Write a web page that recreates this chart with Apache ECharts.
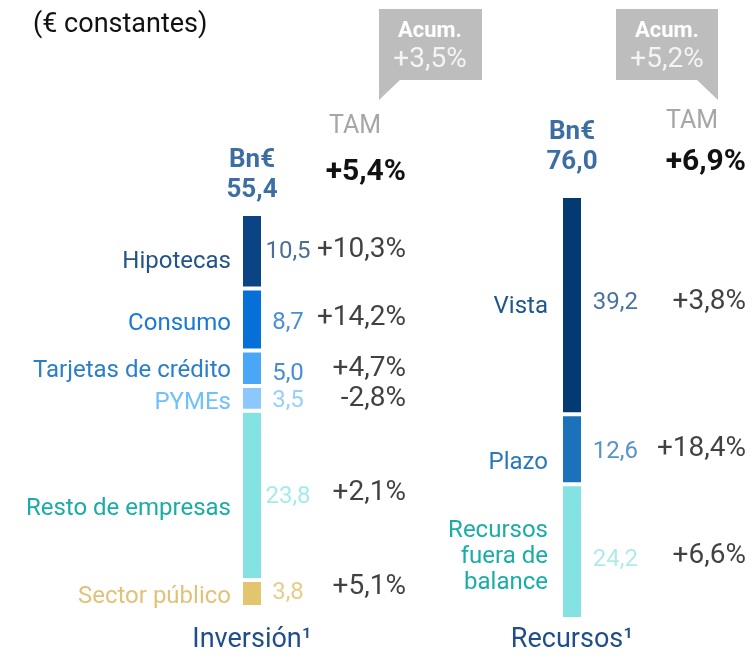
<html>
<head>
<meta charset="utf-8">
<title>Inversión y Recursos</title>
<script src="https://cdn.jsdelivr.net/npm/echarts@6/dist/echarts.min.js"></script>
</head>
<body style="margin:0">
<div id="main" style="width:752px;height:656px;"></div>
<script>
    // datos (de arriba a abajo de cada barra)
    var invNames = ['Hipotecas', 'Consumo', 'Tarjetas de crédito', 'PYMEs', 'Resto de empresas', 'Sector público'];
    var invValues = [10.5, 8.7, 5.0, 3.5, 23.8, 3.8];
    var invTam = ['+10,3%', '+14,2%', '+4,7%', '-2,8%', '+2,1%', '+5,1%'];
    var invTotal = '55,4';
    var invTamTotal = '+5,4%';
    var invAcum = '+3,5%';

    var recNames = ['Vista', 'Plazo', 'Recursos\nfuera de\nbalance'];
    var recValues = [39.2, 12.6, 24.2];
    var recTam = ['+3,8%', '+18,4%', '+6,6%'];
    var recTotal = '76,0';
    var recTamTotal = '+6,9%';
    var recAcum = '+5,2%';

    var FONT = 'Roboto, "Noto Sans", sans-serif';

    // estilos por bloque
    var invStyle = {
        bar: ['#0b4485', '#0770d8', '#4aa6f7', '#8cc8fc', '#84e3e2', '#e3c46f'],
        name: ['#245487', '#1a78d6', '#2a7fc8', '#70c0fa', '#1aada8', '#e0c27a'],
        value: ['#1a4a80', '#1a72d2', '#1a70c8', '#7cc4fa', '#8de6e6', '#e0c06c'],
        nameDy: [11, 4, 3, 5, 14, 4],
        valueDy: [1, 3, 6, 3, 2, 0],
        tamDy: [-1, -2, 1, 1, -2, -6],
        nameDist: 10, valueDx: 36, valueAlign: 'center', tamDx: 154,
        totalDist: 9
    };
    var recStyle = {
        bar: ['#043a72', '#1b72ba', '#84e3e2'],
        name: ['#20578f', '#2a78bb', '#1aada8'],
        value: ['#1a4f8a', '#2a78bb', '#9ae6e6'],
        nameDy: [2, 14, 5],
        valueDy: [-2, 3, 8],
        tamDy: [-3, 0, 4],
        nameDist: 13, valueDx: 66, valueAlign: 'right', tamDx: 174,
        totalDist: 19
    };

    function fmt(v) {
        return v.toFixed(1).replace('.', ',');
    }

    function sum(arr) {
        return arr.reduce(function (a, b) { return a + b; }, 0);
    }

    function buildSeries(idx, names, values, tam, total, st) {
        var series = [];
        var n = values.length;
        // barras apiladas: la ultima del array va abajo
        for (var i = n - 1; i >= 0; i--) {
            series.push({
                type: 'bar',
                name: names[i],
                stack: 'b' + idx,
                xAxisIndex: idx,
                yAxisIndex: idx,
                barWidth: 22,
                silent: true,
                data: [values[i]],
                itemStyle: { color: st.bar[i], borderColor: '#fff', borderWidth: 2 },
                label: {
                    show: true,
                    position: 'left',
                    distance: st.nameDist,
                    formatter: names[i],
                    color: st.name[i],
                    fontFamily: FONT,
                    fontSize: 24,
                    lineHeight: 26,
                    align: 'right',
                    offset: [0, st.nameDy[i]]
                }
            });
        }
        // puntos medios para cifras y TAM
        var valData = [], tamData = [];
        var below = 0;
        for (var j = n - 1; j >= 0; j--) {
            var mid = below + values[j] / 2;
            below += values[j];
            valData.push({
                value: [0, mid],
                label: {
                    formatter: fmt(values[j]),
                    color: st.value[j],
                    offset: [st.valueDx, st.valueDy[j]]
                }
            });
            tamData.push({
                value: [0, mid],
                label: {
                    formatter: tam[j],
                    offset: [st.tamDx, st.tamDy[j]]
                }
            });
        }
        series.push({
            type: 'scatter', xAxisIndex: idx, yAxisIndex: idx, symbolSize: 0, silent: true,
            data: valData,
            label: { show: true, position: 'inside', align: st.valueAlign, fontFamily: FONT, fontSize: 24 }
        });
        series.push({
            type: 'scatter', xAxisIndex: idx, yAxisIndex: idx, symbolSize: 0, silent: true,
            data: tamData,
            label: { show: true, position: 'inside', align: 'right', color: '#111', fontFamily: FONT, fontSize: 28 }
        });
        // total encima de la barra
        series.push({
            type: 'scatter', xAxisIndex: idx, yAxisIndex: idx, symbolSize: 0, silent: true,
            data: [[0, sum(values)]],
            label: {
                show: true, position: 'top', distance: st.totalDist,
                formatter: 'Bn€\n' + total,
                color: '#0b4a8c', fontFamily: FONT, fontSize: 26, fontWeight: 'bold',
                lineHeight: 30, align: 'center'
            }
        });
        return series;
    }

    function callout(points, cx, acum) {
        return [
            { type: 'polygon', shape: { points: points }, style: { fill: '#bdbdbd' }, silent: true },
            { type: 'text', x: cx, y: 31, style: { text: 'Acum.', align: 'center', verticalAlign: 'middle',
                fill: '#fff', font: 'bold 22px ' + FONT } },
            { type: 'text', x: cx, y: 60, style: { text: acum, align: 'center', verticalAlign: 'middle',
                fill: '#f4f4f4', font: '28px ' + FONT } }
        ];
    }

    var myChart = echarts.init(document.getElementById('main'));
    myChart.setOption({
        animation: false,
        grid: [
            { left: 242, top: 214, width: 20, height: 393 },
            { left: 562, top: 196, width: 20, height: 423 }
        ],
        xAxis: [
            { gridIndex: 0, type: 'category', data: ['Inversión¹'], axisLine: { show: false }, axisTick: { show: false },
              axisLabel: { interval: 0, margin: 20, color: '#1f4e8a', fontFamily: FONT, fontSize: 27 } },
            { gridIndex: 1, type: 'category', data: ['Recursos¹'], axisLine: { show: false }, axisTick: { show: false },
              axisLabel: { interval: 0, margin: 8, color: '#1f4e8a', fontFamily: FONT, fontSize: 27 } }
        ],
        yAxis: [
            { gridIndex: 0, type: 'value', min: 0, max: sum(invValues), show: false },
            { gridIndex: 1, type: 'value', min: 0, max: sum(recValues), show: false }
        ],
        series: buildSeries(0, invNames, invValues, invTam, invTotal, invStyle)
            .concat(buildSeries(1, recNames, recValues, recTam, recTotal, recStyle)),
        graphic: [
            { type: 'text', x: 33, y: 25, style: { text: '(€ constantes)', verticalAlign: 'middle',
                fill: '#111', font: '27px ' + FONT } },
            { type: 'text', x: 355, y: 127, style: { text: 'TAM', align: 'center', verticalAlign: 'middle',
                fill: '#a6a6a6', font: '25px ' + FONT } },
            { type: 'text', x: 692, y: 122, style: { text: 'TAM', align: 'center', verticalAlign: 'middle',
                fill: '#a6a6a6', font: '25px ' + FONT } },
            { type: 'text', x: 406, y: 172, style: { text: invTamTotal, align: 'right', verticalAlign: 'middle',
                fill: '#111', font: 'bold 30px ' + FONT } },
            { type: 'text', x: 746, y: 162, style: { text: recTamTotal, align: 'right', verticalAlign: 'middle',
                fill: '#111', font: 'bold 30px ' + FONT } }
        ].concat(callout([[379, 9], [482, 9], [482, 80], [400, 80], [379, 100]], 430, invAcum))
         .concat(callout([[616, 9], [718, 9], [718, 100], [697, 80], [616, 80]], 667, recAcum))
    });
</script>
</body>
</html>
